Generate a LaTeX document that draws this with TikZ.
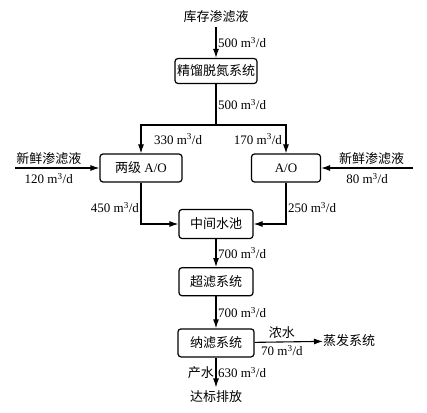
\documentclass[tikz,border=0pt]{standalone}
\usepackage{fontspec}
\setmainfont{Liberation Serif}
\newfontfamily\cjk{Noto Sans CJK SC}
\usepackage{tikz}
\usetikzlibrary{arrows.meta,positioning}

\begin{document}
\begin{tikzpicture}[x=1pt,y=-1pt,font=\fontsize{13}{15}\selectfont]
	  \tikzstyle{unit}=[rectangle,rounded corners=3pt,line width=1.2pt,draw=black,
				  minimum height=28pt,inner sep=2pt]
	  \tikzstyle{flow}=[line width=1.1pt,-{Latex[length=9pt,width=6pt]}]
	  \tikzstyle{rate}=[inner sep=1.5pt]

		\useasboundingbox (0,0) rectangle (427,412);

		\node (stock) at (216,17) {\cjk 库存渗滤液};
		\node[unit,minimum width=82pt,minimum height=25pt] (rect) at (216,71) {\cjk 精馏脱氮系统};
		\coordinate (split) at (216,125);
		\coordinate (splitL) at (141,125);
		\coordinate (splitR) at (286,125);

		\node[unit,minimum width=82pt] (ao2) at (141,168) {{\cjk 两级} A/O};
		\node[unit,minimum width=69pt] (ao) at (286,168) {A/O};
		\coordinate (inL) at (15,168);
		\coordinate (inR) at (413,168);

		\node[unit,minimum width=74pt,minimum height=29pt] (pool) at (216,224) {\cjk 中间水池};
		\node[unit,minimum width=74pt] (uf) [below=28pt of pool] {\cjk 超滤系统};
		\node[unit,minimum width=76pt] (nf) [below=32pt of uf] {\cjk 纳滤系统};
		\node[anchor=west,inner sep=0pt] (evap) at (323,341) {\cjk 蒸发系统};
		\node (out) at (216,397) {\cjk 达标排放};

		\draw[flow] (stock) -- node[rate,right]{500 m\textsuperscript{3}/d} (rect);
		\draw[line width=1.1pt] (rect) -- node[rate,right]{500 m\textsuperscript{3}/d} (split);
		\draw[flow] (split) -- (splitL) -- node[rate,right=11pt]{330 m\textsuperscript{3}/d} (ao2);
		\draw[flow] (split) -- (splitR) -- node[rate,left=2pt]{170 m\textsuperscript{3}/d} (ao);

		\draw[flow] (inL) -- node[pos=0.4,above]{\cjk 新鲜渗滤液}
			node[rate,pos=0.4,below=3pt]{120 m\textsuperscript{3}/d} (ao2);
		\draw[flow] (inR) -- node[pos=0.45,above]{\cjk 新鲜渗滤液}
			node[rate,pos=0.5,below=3pt]{80 m\textsuperscript{3}/d} (ao);

		\draw[flow] (ao2) |- node[rate,pos=0.3,left]{450 m\textsuperscript{3}/d} (pool);
		\draw[flow] (ao) |- node[rate,pos=0.3,right]{250 m\textsuperscript{3}/d} (pool);

		\draw[flow] (pool) -- node[rate,right]{700 m\textsuperscript{3}/d} (uf);
		\draw[flow] (uf) -- node[rate,right]{700 m\textsuperscript{3}/d} (nf);
		\draw[flow] (nf) -- node[pos=0.4,above]{\cjk 浓水}
			node[rate,pos=0.4,below=1pt]{70 m\textsuperscript{3}/d} (evap);
		\draw[flow] (nf) -- node[rate,left]{\cjk 产水}
			node[rate,right]{630 m\textsuperscript{3}/d} (out);

	\end{tikzpicture}
\end{document}
